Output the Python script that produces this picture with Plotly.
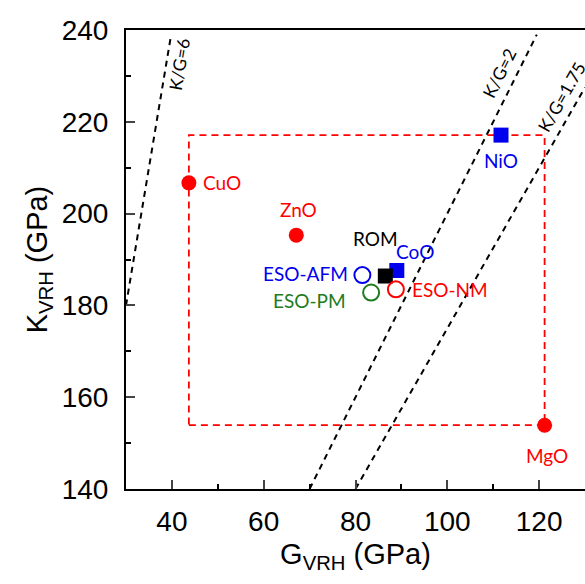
import plotly.graph_objects as go
import numpy as np

# ---- data ----
names = ["CuO", "ZnO", "MgO", "NiO", "CoO", "ROM", "ESO-AFM", "ESO-PM", "ESO-NM"]
G_vals = [43.7, 67.1, 121.2, 111.7, 89.0, 86.5, 81.5, 83.4, 88.8]
K_vals = [206.7, 195.3, 153.9, 217.1, 187.6, 186.4, 186.6, 182.8, 183.5]
colors = ["#FF0000", "#FF0000", "#FF0000", "#0000EE", "#0000EE", "#000000", "#0000EE", "#1E7B1E", "#FF0000"]
symbols = ["circle", "circle", "circle", "square", "square", "square", "circle-open", "circle-open", "circle-open"]
label_colors = ["#FF0000", "#FF0000", "#FF0000", "#0000EE", "#0000EE", "#000000", "#0000EE", "#1E7B1E", "#FF0000"]

ratios = [6, 2, 1.75]
ratio_labels = ["K/G=6", "K/G=2", "K/G=1.75"]
ratio_label_G = [41.7, 111.3, 124.8]
ratio_label_K = [232.4, 230.6, 225.4]

x_range = [30, 130]
y_range = [140, 240]
x_ticks = [40, 60, 80, 100, 120]
y_ticks = [140, 160, 180, 200, 220, 240]

fig = go.Figure()

# K/G lines
G_line = np.linspace(x_range[0], x_range[1], 401)
for r in ratios:
    K_line = r * G_line
    mask = (K_line >= y_range[0]) & (K_line <= 239)
    fig.add_trace(go.Scatter(x=G_line[mask], y=K_line[mask], mode="lines",
                             line=dict(color="black", width=2, dash="6px,5px"),
                             hoverinfo="skip", showlegend=False))

# red dashed rectangle spanning the oxide points
d = dict(zip(names, zip(G_vals, K_vals)))
left, right = d["CuO"][0], d["MgO"][0]
bottom, top = d["MgO"][1], d["NiO"][1]
fig.add_trace(go.Scatter(x=[left, right, right, left, left], y=[bottom, bottom, top, top, bottom],
                         mode="lines", line=dict(color="#FF0000", width=1.8, dash="7px,5px"),
                         hoverinfo="skip", showlegend=False))

# points
for n, g, k, c, s in zip(names, G_vals, K_vals, colors, symbols):
    open_ = s.endswith("open")
    fig.add_trace(go.Scatter(x=[g], y=[k], mode="markers", name=n, showlegend=False,
                             marker=dict(symbol=s, size=16 if open_ else 15, color=c,
                                         line=dict(color=c, width=2 if open_ else 0))))

# point labels: (xanchor, xshift, yshift)
offsets = {
    "CuO": ("left", 12, 0),
    "ZnO": ("center", 2, 26),
    "MgO": ("center", 2, -30),
    "NiO": ("center", 0, -25),
    "CoO": ("center", 18, 19),
    "ROM": ("center", -10, 38),
    "ESO-AFM": ("right", -12, 2),
    "ESO-PM": ("right", -23, -8),
    "ESO-NM": ("left", 14, 0),
}
for n, g, k, lc in zip(names, G_vals, K_vals, label_colors):
    xa, xs, ys = offsets[n]
    fig.add_annotation(x=g, y=k, text=n, showarrow=False, xanchor=xa, yanchor="middle",
                       xshift=xs, yshift=ys, font=dict(family="Lato", size=19, color=lc))

# ratio line labels (rotated along lines)
ax_w, ax_h = 459, 459
for r, t, g, k in zip(ratios, ratio_labels, ratio_label_G, ratio_label_K):
    dx = ax_w / (x_range[1] - x_range[0])
    dy = r * ax_h / (y_range[1] - y_range[0])
    ang = np.degrees(np.arctan2(dy, dx))
    fig.add_annotation(x=g, y=k, text=t, showarrow=False, textangle=-ang,
                       font=dict(family="Lato", size=17.5, color="black"))

fig.update_layout(
    width=585, height=584,
    margin=dict(l=126, r=0, t=30, b=95),
    paper_bgcolor="white", plot_bgcolor="white",
    font=dict(family="Liberation Sans", color="black"),
)
fig.update_xaxes(range=x_range, tickvals=x_ticks, ticks="inside", ticklen=9, tickwidth=2,
                 showline=True, linewidth=2, linecolor="black", mirror=True,
                 showgrid=False, zeroline=False,
                 minor=dict(dtick=10, tick0=30, ticks="inside", ticklen=5, tickwidth=2, tickcolor="black"),
                 tickfont=dict(size=28, family="Liberation Sans"), ticklabelstandoff=6,
                 title=dict(text="G<sub>VRH</sub> (GPa)", font=dict(size=29, family="Liberation Sans"), standoff=8))
fig.update_yaxes(range=y_range, tickvals=y_ticks, ticks="inside", ticklen=9, tickwidth=2,
                 showline=True, linewidth=2, linecolor="black", mirror=False,
                 showgrid=False, zeroline=False,
                 minor=dict(dtick=10, tick0=140, ticks="inside", ticklen=5, tickwidth=2, tickcolor="black"),
                 tickfont=dict(size=28, family="Liberation Sans"), ticklabelstandoff=10,
                 title=dict(text="K<sub>VRH</sub> (GPa)", font=dict(size=29, family="Liberation Sans"), standoff=6))

fig.write_html("out.html", config={"displayModeBar": False},
               post_script="document.body.style.margin='0px';document.body.style.overflow='hidden';")
